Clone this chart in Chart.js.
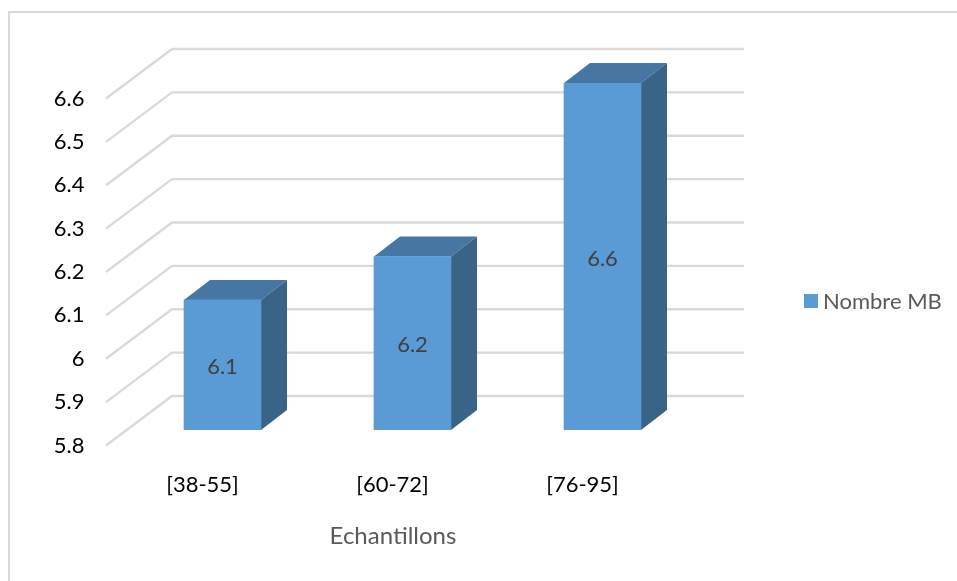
<!DOCTYPE html>
<html>
<head>
<meta charset="utf-8">
<title>Nombre MB</title>
<script src="https://cdn.jsdelivr.net/npm/chart.js@4"></script>
<style>
  html, body { margin: 0; padding: 0; background: #fff; overflow: hidden; }
  #wrap { position: relative; width: 957px; height: 581px; }
  #frame {
    position: absolute; left: 8px; top: 11px; right: 0; bottom: 0;
    border-left: 2.5px solid #d9d9d9; border-top: 2.5px solid #d9d9d9;
  }
  canvas { position: absolute; left: 0; top: 0; }
</style>
</head>
<body>
<div id="wrap">
  <div id="frame"></div>
  <canvas id="myChart" width="957" height="581"></canvas>
</div>
<script>
const categories = ["[38-55]", "[60-72]", "[76-95]"];
const values = [6.1, 6.2, 6.6];
const yTickLabels = ["5.8", "5.9", "6", "6.1", "6.2", "6.3", "6.4", "6.5", "6.6"];
const seriesName = "Nombre MB";
const xTitle = "Echantillons";

const FONT = "Lato, 'Open Sans', sans-serif";
const GRID = "#d9d9d9";
const BAR_FRONT = "#5b9bd5";
const BAR_TOP = "#4676a1";
const BAR_SIDE = "#3a6388";

// fake 3D: offsets of the walls and bar depth, relative to the plane of the bars
const BACK_DX = 44.5, BACK_DY = -34;
const FRONT_DX = -21.5, FRONT_DY = 15.5;
const DEPTH_X = 26, DEPTH_Y = -20;

function polygon(ctx, pts, color) {
  ctx.fillStyle = color;
  ctx.beginPath();
  pts.forEach((p, i) => (i ? ctx.lineTo(p[0], p[1]) : ctx.moveTo(p[0], p[1])));
  ctx.closePath();
  ctx.fill();
}

const wallsAndDepth = {
  id: "wallsAndDepth",
  beforeDatasetsDraw(chart) {
    const { ctx, chartArea } = chart;
    const y = chart.scales.y;
    ctx.save();

    // floor-to-wall gridlines, one for each tick
    ctx.strokeStyle = GRID;
    ctx.lineWidth = 2.3;
    y.ticks.forEach((t) => {
      const py = y.getPixelForValue(t.value);
      ctx.beginPath();
      ctx.moveTo(chartArea.left + FRONT_DX, py + FRONT_DY);
      ctx.lineTo(chartArea.left + BACK_DX, py + BACK_DY);
      ctx.lineTo(chartArea.right + 46.5, py + BACK_DY);
      ctx.stroke();
    });

    // top and side faces of each bar
    const base = chartArea.bottom;
    chart.getDatasetMeta(0).data.forEach((bar) => {
      const l = bar.x - bar.width / 2;
      const r = bar.x + bar.width / 2;
      polygon(ctx, [[l, bar.y], [r, bar.y], [r + DEPTH_X, bar.y + DEPTH_Y], [l + DEPTH_X, bar.y + DEPTH_Y]], BAR_TOP);
      polygon(ctx, [[r, bar.y], [r + DEPTH_X, bar.y + DEPTH_Y], [r + DEPTH_X, base + DEPTH_Y], [r, base]], BAR_SIDE);
    });
    ctx.restore();
  },
  afterDatasetsDraw(chart) {
    const { ctx, chartArea } = chart;
    ctx.save();

    // value labels
    ctx.font = "22px " + FONT;
    ctx.fillStyle = "#404040";
    ctx.textAlign = "center";
    ctx.textBaseline = "middle";
    chart.getDatasetMeta(0).data.forEach((bar, i) => {
      ctx.fillText(String(values[i]), bar.x, (bar.y + chartArea.bottom) / 2 + 2);
    });

    // axis title sits left of the plot centre
    ctx.fillStyle = "#595959";
    ctx.font = "24px " + FONT;
    ctx.fillText(xTitle, 393, 536);

    // legend
    ctx.fillStyle = BAR_FRONT;
    ctx.fillRect(804, 294, 14, 14);
    ctx.fillStyle = "#595959";
    ctx.font = "22px " + FONT;
    ctx.textAlign = "left";
    ctx.fillText(seriesName, 823, 302);
    ctx.restore();
  },
};

const config = {
  type: "bar",
  data: {
    labels: categories,
    datasets: [
      {
        label: seriesName,
        data: values,
        backgroundColor: BAR_FRONT,
        barThickness: 77,
      },
    ],
  },
  options: {
    responsive: false,
    animation: false,
    layout: { padding: { top: 83, right: 259.5, bottom: 0, left: 0 } },
    plugins: {
      legend: { display: false },
      tooltip: { enabled: false },
    },
    scales: {
      x: {
        border: { display: false },
        grid: { display: false, drawTicks: false },
        afterFit(scale) {
          scale.height = 151;
        },
        ticks: {
          color: "#000",
          font: { family: FONT, size: 22 },
          padding: 42,
          labelOffset: -20,
          maxRotation: 0,
        },
      },
      y: {
        min: 5.8,
        max: 6.6,
        border: { display: false },
        grid: { display: false, drawTicks: false },
        afterFit(scale) {
          scale.width = 127.5;
        },
        ticks: {
          stepSize: 0.1,
          color: "#000",
          font: { family: FONT, size: 22 },
          padding: 43,
          labelOffset: 15.5,
          autoSkip: false,
          callback: (v, i) => yTickLabels[i],
        },
      },
    },
  },
  plugins: [wallsAndDepth],
};

document.addEventListener("DOMContentLoaded", () => {
  const ctx = document.getElementById("myChart").getContext("2d");
  new Chart(ctx, config);
});
</script>
</body>
</html>
